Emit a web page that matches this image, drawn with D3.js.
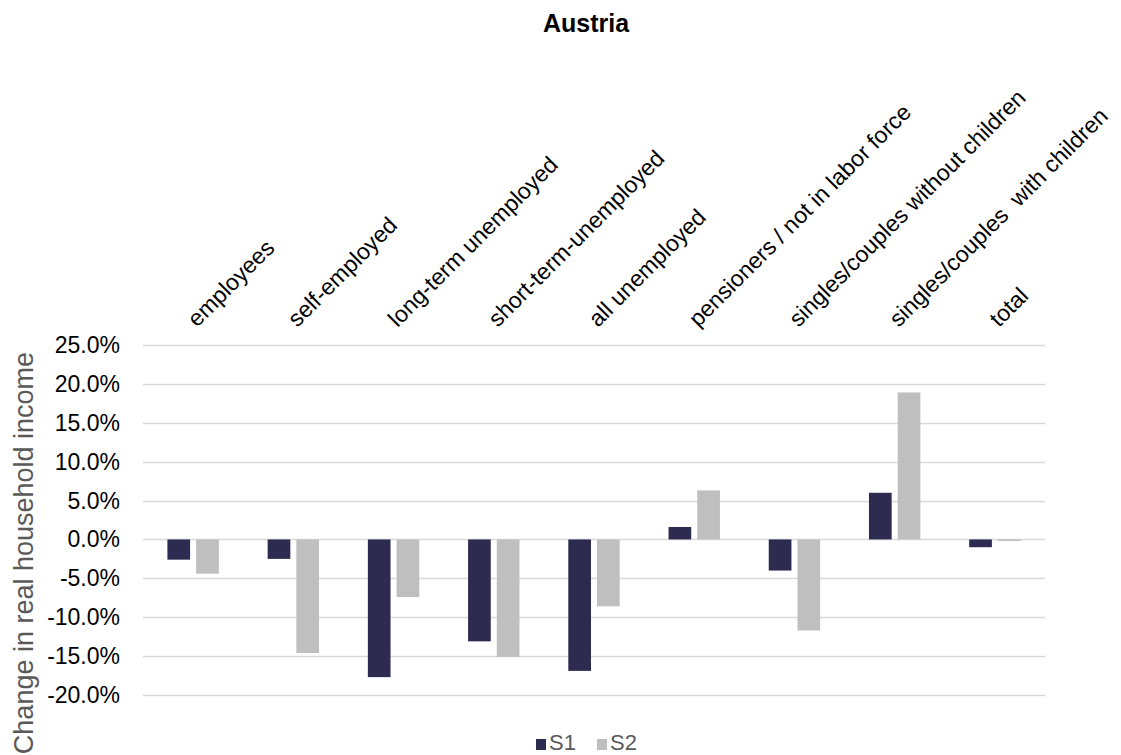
<!DOCTYPE html>
<html>
<head>
<meta charset="utf-8">
<script src="https://cdn.jsdelivr.net/npm/d3@7"></script>
<style>
  body { margin: 0; background: #fff; }
  text { font-family: "Liberation Sans", Arial, sans-serif; }
</style>
</head>
<body>
<svg id="chart"></svg>
<script>
const categories = [
  "employees",
  "self-employed",
  "long-term unemployed",
  "short-term-unemployed",
  "all unemployed",
  "pensioners / not in labor force",
  "singles/couples without children",
  "singles/couples  with children",
  "total",
];
const s1 = [-2.6, -2.5, -17.7, -13.1, -16.9, 1.6, -4.0, 6.0, -1.0];
const s2 = [-4.4, -14.6, -7.4, -15.1, -8.6, 6.3, -11.7, 18.9, -0.2];
const yTicks = [-20, -15, -10, -5, 0, 5, 10, 15, 20, 25];
const seriesNames = ["S1", "S2"];
const colors = ["#2e2b50", "#bfbfbf"];

const width = 1121;
const height = 755;
const margin = { top: 345, right: 76, bottom: 60, left: 143 };

const svg = d3.select("#chart").attr("width", width).attr("height", height);

const x = d3
  .scaleBand()
  .domain(categories)
  .range([margin.left, width - margin.right]);

const inner = d3
  .scaleBand()
  .domain(seriesNames)
  .range([0, x.bandwidth()])
  .paddingInner(0.21)
  .paddingOuter(0.85);

const y = d3
  .scaleLinear()
  .domain([-20, 25])
  .range([695, 345]);

// gridlines
svg
  .append("g")
  .selectAll("line")
  .data(yTicks)
  .join("line")
  .attr("x1", margin.left)
  .attr("x2", width - margin.right)
  .attr("y1", (d) => Math.round(y(d)) + 0.5)
  .attr("y2", (d) => Math.round(y(d)) + 0.5)
  .attr("stroke", "#d9d9d9")
  .attr("stroke-width", 1.3);

// y tick labels
svg
  .append("g")
  .selectAll("text")
  .data(yTicks)
  .join("text")
  .attr("x", 120)
  .attr("y", (d) => y(d))
  .attr("dy", "0.35em")
  .attr("text-anchor", "end")
  .attr("font-size", 23)
  .attr("fill", "#000")
  .text((d) => d.toFixed(1) + "%");

// bars
const data = categories.map((c, i) => ({ cat: c, vals: [s1[i], s2[i]] }));
const groups = svg
  .append("g")
  .selectAll("g")
  .data(data)
  .join("g")
  .attr("transform", (d) => `translate(${x(d.cat)},0)`);

groups
  .selectAll("rect")
  .data((d) => d.vals.map((v, j) => ({ key: seriesNames[j], v, j })))
  .join("rect")
  .attr("x", (d) => inner(d.key))
  .attr("width", inner.bandwidth())
  .attr("y", (d) => y(Math.max(0, d.v)))
  .attr("height", (d) => Math.abs(y(d.v) - y(0)))
  .attr("fill", (d) => colors[d.j]);

// category labels, rotated
svg
  .append("g")
  .selectAll("text")
  .data(categories)
  .join("text")
  .attr(
    "transform",
    (d) => `translate(${x(d) + x.bandwidth() / 2 + 4},328) rotate(-45)`
  )
  .attr("font-size", 23)
  .attr("fill", "#000")
  .style("white-space", "pre")
  .text((d) => d);

// title
svg
  .append("text")
  .attr("x", 586)
  .attr("y", 32)
  .attr("text-anchor", "middle")
  .attr("font-size", 25)
  .attr("font-weight", "bold")
  .text("Austria");

// y axis title
svg
  .append("text")
  .attr("transform", "translate(33,553) rotate(-90)")
  .attr("text-anchor", "middle")
  .attr("font-size", 27)
  .attr("fill", "#595959")
  .text("Change in real household income");

// legend
const legend = svg
  .append("g")
  .selectAll("g")
  .data(seriesNames)
  .join("g")
  .attr("transform", (d, i) => `translate(${536 + i * 61},739)`);

legend
  .append("rect")
  .attr("width", 10)
  .attr("height", 11)
  .attr("fill", (d, i) => colors[i]);

legend
  .append("text")
  .attr("x", 13)
  .attr("y", 11)
  .attr("font-size", 22)
  .attr("fill", "#595959")
  .text((d) => d);
</script>
</body>
</html>
